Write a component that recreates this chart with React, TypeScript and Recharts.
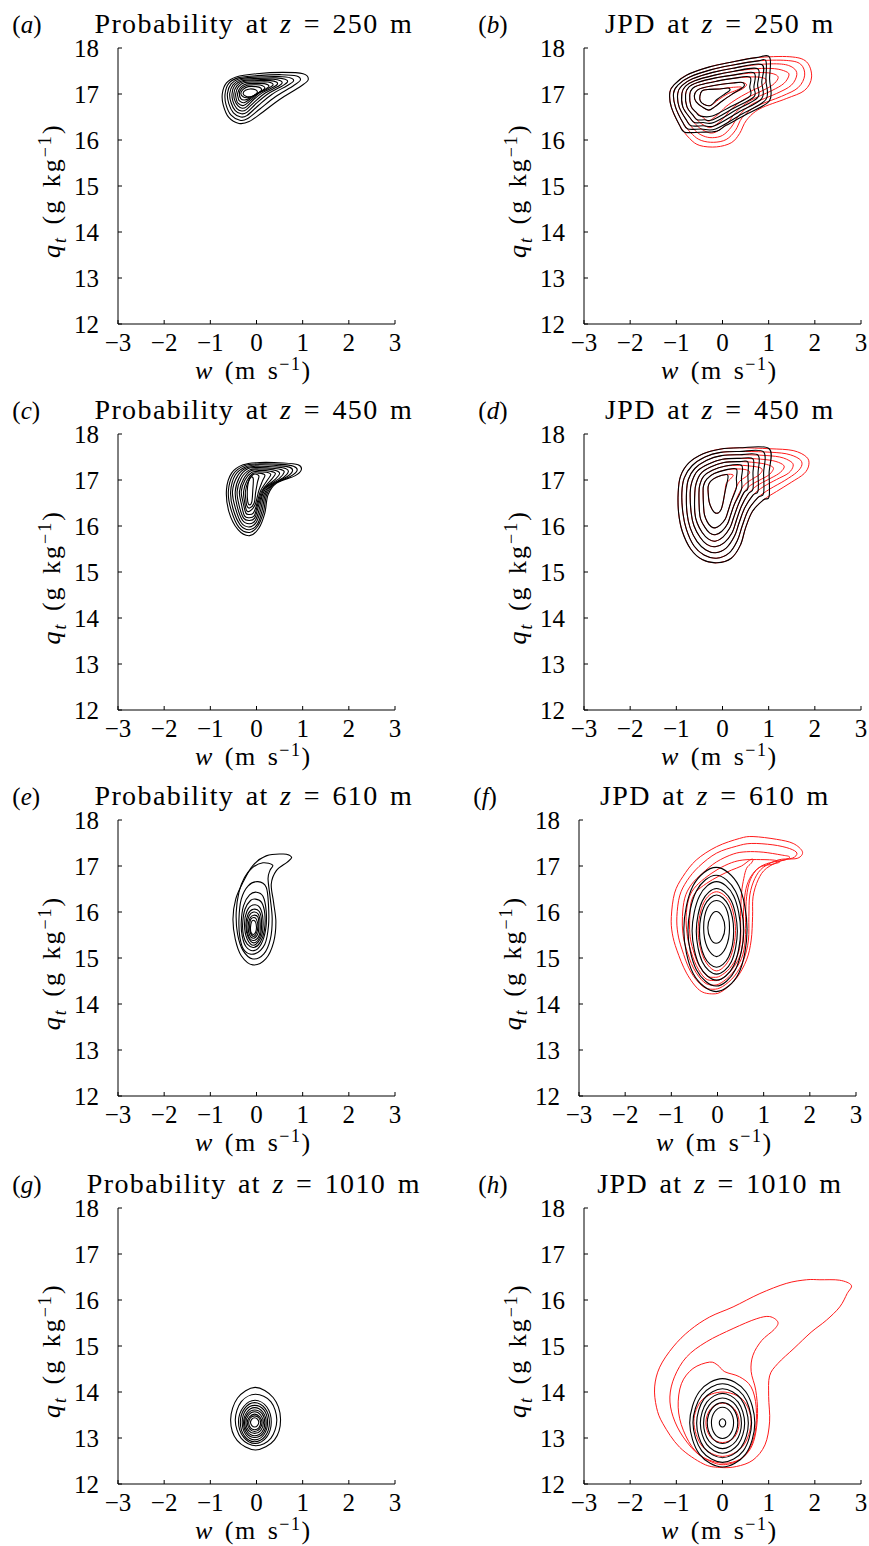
import React from "react";
import { ScatterChart, Scatter, XAxis, YAxis } from "recharts";

const W_TICKS = [-3, -2, -1, 0, 1, 2, 3];
const Q_TICKS = [12, 13, 14, 15, 16, 17, 18];

// contour rings, flat lists of w, q pairs, outermost ring first
const RINGS_A = [
  [-0.74, 17.01, -0.65, 17.24, -0.44, 17.37, 0.0, 17.44, 0.57, 17.47, 1.01, 17.44, 1.12, 17.31, 0.96, 17.17, 0.5, 16.88, 0.14, 16.61, -0.16, 16.4, -0.38, 16.36, -0.6, 16.49, -0.72, 16.76],
  [-0.68, 17.01, -0.6, 17.23, -0.4, 17.35, 0.02, 17.4, 0.55, 17.42, 0.87, 17.39, 0.95, 17.3, 0.8, 17.18, 0.41, 16.94, 0.08, 16.68, -0.2, 16.46, -0.36, 16.43, -0.55, 16.54, -0.66, 16.77],
  [-0.63, 17.01, -0.55, 17.22, -0.37, 17.33, 0.03, 17.37, 0.48, 17.38, 0.74, 17.35, 0.8, 17.28, 0.66, 17.18, 0.33, 16.99, 0.04, 16.75, -0.21, 16.53, -0.34, 16.5, -0.5, 16.59, -0.6, 16.79],
  [-0.58, 17.01, -0.51, 17.2, -0.34, 17.31, 0.03, 17.34, 0.42, 17.35, 0.62, 17.32, 0.67, 17.26, 0.55, 17.17, 0.26, 17.01, 0.0, 16.8, -0.21, 16.6, -0.33, 16.57, -0.46, 16.64, -0.55, 16.81],
  [-0.53, 17.01, -0.47, 17.19, -0.31, 17.29, 0.03, 17.31, 0.36, 17.32, 0.52, 17.29, 0.55, 17.23, 0.44, 17.15, 0.19, 17.02, -0.03, 16.84, -0.22, 16.66, -0.32, 16.63, -0.43, 16.69, -0.51, 16.84],
  [-0.49, 17.01, -0.43, 17.17, -0.28, 17.27, 0.02, 17.29, 0.3, 17.29, 0.43, 17.26, 0.45, 17.21, 0.35, 17.14, 0.13, 17.03, -0.06, 16.88, -0.22, 16.72, -0.31, 16.69, -0.4, 16.74, -0.47, 16.86],
  [-0.45, 17.01, -0.39, 17.16, -0.25, 17.25, 0.02, 17.26, 0.25, 17.26, 0.36, 17.2, 0.25, 17.12, 0.06, 17.02, -0.13, 16.86, -0.28, 16.75, -0.4, 16.8, -0.44, 16.9],
  [-0.41, 17.01, -0.35, 17.14, -0.22, 17.22, 0.02, 17.23, 0.19, 17.22, 0.27, 17.17, 0.18, 17.1, 0.02, 17.01, -0.14, 16.89, -0.27, 16.81, -0.37, 16.85, -0.4, 16.93],
  [-0.37, 17.01, -0.32, 17.12, -0.2, 17.19, 0.01, 17.2, 0.13, 17.18, 0.18, 17.13, 0.1, 17.06, -0.02, 16.99, -0.15, 16.91, -0.26, 16.87, -0.34, 16.9],
  [-0.34, 17.01, -0.29, 17.1, -0.18, 17.16, -0.01, 17.16, 0.09, 17.13, 0.1, 17.07, 0.02, 17.01, -0.09, 16.95, -0.2, 16.92, -0.29, 16.94],
  [-0.29, 17.01, -0.24, 17.08, -0.14, 17.11, -0.02, 17.09, 0.02, 17.04, -0.03, 16.98, -0.13, 16.94, -0.23, 16.95],
];

const RINGS_C = [
  [-0.65, 16.79, -0.54, 17.15, -0.29, 17.33, 0.07, 17.38, 0.58, 17.37, 0.9, 17.33, 0.97, 17.22, 0.83, 17.09, 0.43, 16.93, 0.25, 16.68, 0.18, 16.28, 0.05, 15.95, -0.15, 15.79, -0.4, 15.92, -0.6, 16.32],
  [-0.61, 16.75, -0.5, 17.13, -0.26, 17.31, 0.07, 17.35, 0.53, 17.34, 0.8, 17.3, 0.88, 17.21, 0.74, 17.08, 0.38, 16.91, 0.22, 16.68, 0.15, 16.3, 0.03, 16.0, -0.15, 15.86, -0.38, 15.97, -0.55, 16.35],
  [-0.56, 16.75, -0.46, 17.11, -0.23, 17.29, 0.07, 17.33, 0.49, 17.31, 0.71, 17.28, 0.78, 17.2, 0.66, 17.07, 0.33, 16.89, 0.19, 16.68, 0.12, 16.33, 0.02, 16.04, -0.15, 15.92, -0.35, 16.02, -0.51, 16.38],
  [-0.52, 16.75, -0.41, 17.09, -0.2, 17.27, 0.07, 17.3, 0.45, 17.28, 0.63, 17.25, 0.69, 17.18, 0.58, 17.05, 0.28, 16.87, 0.16, 16.68, 0.09, 16.35, 0.0, 16.09, -0.15, 15.98, -0.33, 16.07, -0.46, 16.4],
  [-0.46, 16.75, -0.37, 17.06, -0.18, 17.25, 0.07, 17.27, 0.4, 17.25, 0.55, 17.22, 0.6, 17.17, 0.5, 17.04, 0.23, 16.85, 0.13, 16.68, 0.06, 16.37, -0.02, 16.13, -0.15, 16.05, -0.3, 16.12, -0.42, 16.43],
  [-0.42, 16.75, -0.33, 17.04, -0.15, 17.22, 0.07, 17.24, 0.36, 17.22, 0.5, 17.15, 0.41, 17.02, 0.18, 16.83, 0.11, 16.68, 0.03, 16.39, -0.04, 16.17, -0.15, 16.12, -0.28, 16.17, -0.38, 16.46],
  [-0.37, 16.75, -0.28, 17.02, -0.12, 17.2, 0.07, 17.21, 0.3, 17.19, 0.41, 17.14, 0.32, 17.01, 0.14, 16.8, 0.08, 16.66, 0.01, 16.41, -0.05, 16.22, -0.15, 16.18, -0.26, 16.22, -0.33, 16.49],
  [-0.33, 16.75, -0.25, 17.0, -0.1, 17.17, 0.05, 17.18, 0.21, 17.17, 0.31, 17.12, 0.23, 16.99, 0.1, 16.79, 0.05, 16.64, -0.01, 16.42, -0.07, 16.28, -0.15, 16.25, -0.23, 16.28, -0.29, 16.51],
  [-0.28, 16.75, -0.21, 16.98, -0.08, 17.14, 0.04, 17.15, 0.18, 17.11, 0.13, 16.98, 0.05, 16.77, -0.03, 16.46, -0.15, 16.32, -0.22, 16.35, -0.26, 16.54],
  [-0.24, 16.75, -0.18, 16.96, -0.07, 17.12, 0.05, 17.09, 0.02, 16.95, -0.02, 16.72, -0.05, 16.5, -0.15, 16.39, -0.21, 16.44, -0.23, 16.57],
  [-0.2, 16.75, -0.18, 16.93, -0.13, 17.06, -0.07, 17.03, -0.08, 16.79, -0.1, 16.53, -0.15, 16.46, -0.19, 16.53],
];

const RINGS_E = [
  [0.76, 17.19, 0.58, 17.26, 0.21, 17.22, -0.08, 17.01, -0.29, 16.65, -0.45, 16.28, -0.51, 15.85, -0.46, 15.41, -0.33, 15.05, -0.08, 14.85, 0.2, 14.98, 0.37, 15.34, 0.42, 15.78, 0.37, 16.21, 0.32, 16.61, 0.43, 16.9, 0.66, 17.08],
  [0.35, 17.02, 0.14, 17.07, -0.08, 16.97, -0.26, 16.75, -0.38, 16.43, -0.44, 15.99, -0.41, 15.52, -0.29, 15.16, -0.08, 14.98, 0.16, 15.09, 0.3, 15.41, 0.34, 15.85, 0.3, 16.28, 0.25, 16.72, 0.29, 16.9],
  [-0.38, 15.85, -0.33, 16.28, -0.18, 16.57, 0.03, 16.66, 0.21, 16.54, 0.26, 16.14, 0.26, 15.7, 0.18, 15.3, -0.04, 15.09, -0.26, 15.16, -0.36, 15.45],
  [-0.33, 15.78, -0.28, 16.14, -0.15, 16.37, 0.0, 16.43, 0.14, 16.34, 0.21, 16.02, 0.2, 15.63, 0.1, 15.3, -0.06, 15.16, -0.23, 15.25, -0.31, 15.48],
  [-0.3, 15.74, -0.25, 16.06, -0.13, 16.25, -0.02, 16.28, 0.11, 16.21, 0.18, 15.96, 0.17, 15.6, 0.08, 15.34, -0.06, 15.23, -0.2, 15.3, -0.28, 15.48],
  [-0.26, 15.72, -0.21, 16.01, -0.08, 16.15, 0.07, 16.1, 0.14, 15.83, 0.11, 15.48, -0.05, 15.28, -0.2, 15.41],
  [-0.23, 15.71, -0.18, 15.96, -0.07, 16.06, 0.06, 16.01, 0.11, 15.79, 0.08, 15.48, -0.05, 15.33, -0.18, 15.45],
  [-0.21, 15.7, -0.16, 15.92, -0.06, 16.0, 0.04, 15.95, 0.08, 15.76, 0.06, 15.5, -0.06, 15.38, -0.17, 15.47],
  [-0.18, 15.69, -0.14, 15.87, -0.06, 15.93, 0.03, 15.89, 0.05, 15.72, 0.03, 15.53, -0.06, 15.43, -0.15, 15.5],
  [-0.15, 15.68, -0.13, 15.83, -0.06, 15.88, 0.0, 15.84, 0.03, 15.69, 0.0, 15.54, -0.06, 15.47, -0.13, 15.54],
  [-0.13, 15.67, -0.11, 15.78, -0.07, 15.82, -0.02, 15.78, 0.0, 15.67, -0.02, 15.56, -0.07, 15.51, -0.12, 15.56],
];

const RINGS_G = [
  [-0.56, 13.4, -0.41, 13.87, -0.03, 14.1, 0.36, 13.88, 0.52, 13.42, 0.39, 12.96, -0.02, 12.74, -0.42, 12.95],
  [-0.46, 13.39, -0.33, 13.79, -0.02, 13.95, 0.31, 13.79, 0.44, 13.39, 0.31, 12.99, -0.01, 12.83, -0.33, 12.99],
  [-0.39, 13.35, -0.28, 13.68, -0.03, 13.82, 0.22, 13.68, 0.32, 13.35, 0.22, 13.02, -0.03, 12.88, -0.28, 13.02],
  [-0.35, 13.34, -0.26, 13.64, -0.04, 13.77, 0.19, 13.64, 0.28, 13.34, 0.19, 13.04, -0.04, 12.92, -0.26, 13.04],
  [-0.31, 13.34, -0.23, 13.61, -0.04, 13.71, 0.16, 13.61, 0.24, 13.34, 0.16, 13.07, -0.04, 12.96, -0.23, 13.07],
  [-0.28, 13.33, -0.21, 13.56, -0.04, 13.66, 0.14, 13.56, 0.21, 13.33, 0.14, 13.1, -0.04, 13.01, -0.21, 13.1],
  [-0.26, 13.33, -0.19, 13.53, -0.04, 13.61, 0.12, 13.53, 0.18, 13.33, 0.12, 13.13, -0.04, 13.05, -0.19, 13.13],
  [-0.23, 13.33, -0.17, 13.5, -0.04, 13.57, 0.09, 13.5, 0.15, 13.33, 0.09, 13.16, -0.04, 13.1, -0.17, 13.16],
  [-0.2, 13.33, -0.15, 13.46, -0.04, 13.52, 0.07, 13.46, 0.12, 13.33, 0.07, 13.2, -0.04, 13.14, -0.15, 13.2],
  [-0.17, 13.33, -0.13, 13.44, -0.04, 13.48, 0.05, 13.44, 0.09, 13.33, 0.05, 13.22, -0.04, 13.18, -0.13, 13.22],
  [-0.13, 13.34, -0.1, 13.41, -0.04, 13.44, 0.02, 13.41, 0.05, 13.34, 0.02, 13.27, -0.04, 13.24, -0.1, 13.27],
];

const RED_B = [
  [-1.14, 17.04, -1.04, 17.21, -0.78, 17.41, -0.28, 17.59, 0.23, 17.7, 0.73, 17.79, 1.46, 17.81, 1.82, 17.7, 1.93, 17.37, 1.78, 17.08, 1.38, 16.9, 0.81, 16.68, 0.52, 16.43, 0.37, 16.14, 0.19, 15.94, -0.13, 15.85, -0.49, 15.88, -0.71, 16.03, -0.93, 16.32, -1.11, 16.72],
  [-1.06, 17.02, -0.96, 17.2, -0.71, 17.37, -0.24, 17.53, 0.23, 17.63, 0.77, 17.72, 1.38, 17.73, 1.69, 17.65, 1.78, 17.41, 1.64, 17.14, 1.28, 16.95, 0.73, 16.73, 0.43, 16.49, 0.28, 16.21, 0.08, 16.01, -0.19, 15.95, -0.46, 15.99, -0.65, 16.12, -0.86, 16.38, -1.02, 16.72],
  [-0.97, 17.01, -0.88, 17.18, -0.65, 17.33, -0.21, 17.47, 0.23, 17.56, 0.77, 17.64, 1.28, 17.65, 1.53, 17.57, 1.61, 17.42, 1.49, 17.19, 1.17, 17.01, 0.66, 16.79, 0.36, 16.54, 0.19, 16.28, 0.0, 16.1, -0.22, 16.05, -0.42, 16.09, -0.6, 16.21, -0.78, 16.43, -0.94, 16.72],
  [-0.88, 17.01, -0.8, 17.17, -0.6, 17.29, -0.17, 17.41, 0.23, 17.49, 0.73, 17.55, 1.13, 17.55, 1.37, 17.49, 1.44, 17.41, 1.33, 17.23, 1.06, 17.07, 0.59, 16.85, 0.29, 16.6, 0.11, 16.37, -0.08, 16.21, -0.24, 16.15, -0.39, 16.2, -0.54, 16.3, -0.71, 16.49, -0.86, 16.72],
  [-0.8, 16.99, -0.73, 17.15, -0.54, 17.25, -0.15, 17.35, 0.23, 17.41, 0.66, 17.46, 0.99, 17.46, 1.17, 17.41, 1.2, 17.33, 1.09, 17.2, 0.88, 17.08, 0.48, 16.89, 0.19, 16.67, 0.01, 16.46, -0.16, 16.32, -0.28, 16.27, -0.36, 16.3, -0.49, 16.38, -0.64, 16.54, -0.77, 16.72],
  [-0.71, 16.98, -0.65, 17.12, -0.48, 17.2, -0.12, 17.28, 0.23, 17.34, 0.59, 17.37, 0.84, 17.36, 0.95, 17.3, 0.84, 17.17, 0.63, 17.07, 0.34, 16.91, 0.08, 16.73, -0.08, 16.57, -0.22, 16.46, -0.31, 16.41, -0.42, 16.49, -0.57, 16.6, -0.68, 16.73],
  [-0.61, 16.96, -0.55, 17.08, -0.4, 17.14, -0.09, 17.2, 0.23, 17.24, 0.43, 17.25, 0.52, 17.2, 0.43, 17.11, 0.23, 17.01, 0.01, 16.86, -0.17, 16.72, -0.3, 16.65, -0.44, 16.72, -0.57, 16.83],
  [-0.49, 16.95, -0.44, 17.07, -0.28, 17.1, -0.06, 17.11, 0.17, 17.14, 0.41, 17.15, 0.3, 17.08, 0.12, 17.01, -0.08, 16.88, -0.26, 16.75, -0.41, 16.78, -0.48, 16.85],
];

const BLACK_B = [
  [-1.14, 17.04, -1.04, 17.21, -0.78, 17.41, -0.28, 17.59, 0.23, 17.7, 0.73, 17.79, 1.02, 17.8, 1.02, 17.33, 1.02, 16.86, 0.52, 16.56, 0.08, 16.32, -0.13, 16.19, -0.49, 16.17, -0.82, 16.17, -0.93, 16.32, -1.11, 16.72],
  [-1.06, 17.02, -0.96, 17.2, -0.71, 17.37, -0.24, 17.53, 0.23, 17.63, 0.77, 17.72, 0.94, 17.72, 0.94, 17.3, 0.94, 16.88, 0.41, 16.56, -0.15, 16.24, -0.46, 16.24, -0.75, 16.24, -0.86, 16.38, -1.02, 16.72],
  [-0.97, 17.01, -0.88, 17.18, -0.65, 17.33, -0.21, 17.47, 0.23, 17.56, 0.85, 17.64, 0.85, 17.26, 0.85, 16.9, 0.34, 16.6, -0.17, 16.31, -0.42, 16.31, -0.68, 16.31, -0.78, 16.43, -0.94, 16.72],
  [-0.88, 17.01, -0.8, 17.17, -0.6, 17.29, -0.17, 17.41, 0.23, 17.49, 0.76, 17.55, 0.76, 17.2, 0.76, 16.92, 0.29, 16.65, -0.19, 16.38, -0.42, 16.38, -0.61, 16.38, -0.71, 16.49, -0.86, 16.72],
  [-0.8, 16.99, -0.73, 17.15, -0.54, 17.25, -0.15, 17.35, 0.23, 17.41, 0.68, 17.46, 0.68, 17.15, 0.68, 16.94, 0.24, 16.69, -0.21, 16.44, -0.39, 16.44, -0.55, 16.44, -0.64, 16.54, -0.77, 16.72],
  [-0.71, 16.98, -0.65, 17.12, -0.48, 17.2, -0.12, 17.28, 0.23, 17.34, 0.59, 17.37, 0.59, 17.15, 0.59, 16.95, 0.18, 16.73, -0.22, 16.52, -0.48, 16.52, -0.57, 16.6, -0.68, 16.73],
  [-0.61, 16.96, -0.55, 17.08, -0.4, 17.14, -0.09, 17.2, 0.23, 17.24, 0.43, 17.25, 0.46, 17.16, 0.23, 17.01, 0.01, 16.86, -0.17, 16.72, -0.3, 16.65, -0.44, 16.72, -0.57, 16.83],
  [-0.49, 16.95, -0.44, 17.07, -0.28, 17.1, -0.06, 17.11, 0.12, 17.13, 0.16, 17.08, 0.05, 17.0, -0.12, 16.88, -0.26, 16.75, -0.41, 16.78, -0.48, 16.85],
];

const RED_D = [
  [-0.96, 16.72, -0.91, 17.08, -0.73, 17.37, -0.42, 17.57, -0.06, 17.67, 0.37, 17.7, 1.02, 17.68, 1.53, 17.64, 1.82, 17.5, 1.87, 17.33, 1.77, 17.14, 1.49, 16.95, 1.17, 16.75, 0.89, 16.57, 0.65, 16.32, 0.5, 15.96, 0.39, 15.59, 0.19, 15.3, -0.12, 15.2, -0.44, 15.27, -0.69, 15.5, -0.87, 15.88, -0.95, 16.28],
  [-0.88, 16.72, -0.83, 17.04, -0.66, 17.31, -0.38, 17.5, -0.04, 17.6, 0.37, 17.62, 0.91, 17.61, 1.38, 17.57, 1.66, 17.46, 1.72, 17.33, 1.61, 17.17, 1.35, 16.99, 1.02, 16.8, 0.77, 16.62, 0.56, 16.35, 0.43, 16.01, 0.32, 15.68, 0.14, 15.41, -0.13, 15.3, -0.4, 15.37, -0.62, 15.57, -0.78, 15.92, -0.86, 16.3],
  [-0.78, 16.72, -0.74, 17.01, -0.6, 17.25, -0.34, 17.43, -0.02, 17.53, 0.37, 17.55, 0.81, 17.54, 1.24, 17.5, 1.48, 17.4, 1.53, 17.3, 1.43, 17.15, 1.17, 17.01, 0.88, 16.85, 0.66, 16.67, 0.48, 16.39, 0.36, 16.07, 0.26, 15.78, 0.08, 15.52, -0.15, 15.42, -0.36, 15.48, -0.55, 15.66, -0.7, 15.96, -0.77, 16.3],
  [-0.7, 16.72, -0.66, 16.97, -0.54, 17.2, -0.3, 17.35, 0.0, 17.45, 0.37, 17.47, 0.73, 17.46, 1.09, 17.42, 1.3, 17.34, 1.33, 17.26, 1.22, 17.14, 0.99, 17.01, 0.75, 16.88, 0.56, 16.7, 0.41, 16.43, 0.3, 16.12, 0.21, 15.86, 0.04, 15.64, -0.16, 15.55, -0.34, 15.6, -0.49, 15.76, -0.62, 16.01, -0.68, 16.3],
  [-0.6, 16.72, -0.57, 16.93, -0.47, 17.14, -0.26, 17.28, 0.03, 17.38, 0.37, 17.4, 0.7, 17.38, 0.95, 17.34, 1.09, 17.28, 1.09, 17.21, 0.99, 17.1, 0.79, 16.99, 0.6, 16.88, 0.46, 16.72, 0.34, 16.46, 0.24, 16.18, 0.16, 15.96, 0.01, 15.76, -0.16, 15.67, -0.31, 15.72, -0.44, 15.86, -0.55, 16.07, -0.6, 16.3],
  [-0.51, 16.72, -0.49, 16.9, -0.41, 17.08, -0.22, 17.21, 0.05, 17.3, 0.37, 17.32, 0.63, 17.3, 0.81, 17.27, 0.86, 17.21, 0.79, 17.11, 0.63, 17.01, 0.48, 16.9, 0.37, 16.73, 0.26, 16.48, 0.18, 16.25, 0.11, 16.05, -0.02, 15.88, -0.16, 15.81, -0.28, 15.85, -0.38, 15.97, -0.47, 16.14, -0.5, 16.32],
  [-0.42, 16.72, -0.41, 16.88, -0.34, 17.02, -0.18, 17.14, 0.07, 17.22, 0.34, 17.24, 0.52, 17.22, 0.59, 17.17, 0.52, 17.08, 0.37, 16.97, 0.28, 16.79, 0.19, 16.54, 0.12, 16.32, 0.06, 16.15, -0.05, 16.02, -0.16, 15.96, -0.25, 15.99, -0.33, 16.09, -0.39, 16.24, -0.41, 16.43],
  [-0.31, 16.72, -0.31, 16.86, -0.26, 16.97, -0.13, 17.06, 0.08, 17.12, 0.23, 17.11, 0.17, 17.02, 0.08, 16.92, 0.05, 16.72, 0.01, 16.5, -0.03, 16.36, -0.1, 16.28, -0.18, 16.3, -0.24, 16.39, -0.29, 16.53],
];

const BLACK_D = [
  [-0.96, 16.72, -0.91, 17.08, -0.73, 17.37, -0.42, 17.57, -0.06, 17.67, 0.37, 17.7, 1.01, 17.68, 1.01, 17.15, 1.01, 16.64, 0.89, 16.57, 0.65, 16.32, 0.5, 15.96, 0.39, 15.59, 0.19, 15.3, -0.12, 15.2, -0.44, 15.27, -0.69, 15.5, -0.87, 15.88, -0.95, 16.28],
  [-0.88, 16.72, -0.83, 17.04, -0.66, 17.31, -0.38, 17.5, -0.04, 17.6, 0.37, 17.62, 0.89, 17.61, 0.89, 17.15, 0.89, 16.71, 0.77, 16.62, 0.56, 16.35, 0.43, 16.01, 0.32, 15.68, 0.14, 15.41, -0.13, 15.3, -0.4, 15.37, -0.62, 15.57, -0.78, 15.92, -0.86, 16.3],
  [-0.78, 16.72, -0.74, 17.01, -0.6, 17.25, -0.34, 17.43, -0.02, 17.53, 0.37, 17.55, 0.77, 17.54, 0.77, 17.15, 0.77, 16.76, 0.66, 16.67, 0.48, 16.39, 0.36, 16.07, 0.26, 15.78, 0.08, 15.52, -0.15, 15.42, -0.36, 15.48, -0.55, 15.66, -0.7, 15.96, -0.77, 16.3],
  [-0.7, 16.72, -0.66, 16.97, -0.54, 17.2, -0.3, 17.35, 0.0, 17.45, 0.37, 17.47, 0.66, 17.46, 0.66, 17.15, 0.66, 16.8, 0.56, 16.7, 0.41, 16.43, 0.3, 16.12, 0.21, 15.86, 0.04, 15.64, -0.16, 15.55, -0.34, 15.6, -0.49, 15.76, -0.62, 16.01, -0.68, 16.3],
  [-0.6, 16.72, -0.57, 16.93, -0.47, 17.14, -0.26, 17.28, 0.03, 17.38, 0.37, 17.4, 0.55, 17.39, 0.55, 17.11, 0.55, 16.82, 0.46, 16.72, 0.34, 16.46, 0.24, 16.18, 0.16, 15.96, 0.01, 15.76, -0.16, 15.67, -0.31, 15.72, -0.44, 15.86, -0.55, 16.07, -0.6, 16.3],
  [-0.51, 16.72, -0.49, 16.9, -0.41, 17.08, -0.22, 17.21, 0.05, 17.3, 0.41, 17.32, 0.41, 17.04, 0.41, 16.79, 0.26, 16.48, 0.18, 16.25, 0.11, 16.05, -0.02, 15.88, -0.16, 15.81, -0.28, 15.85, -0.38, 15.97, -0.47, 16.14, -0.5, 16.32],
  [-0.42, 16.72, -0.41, 16.88, -0.34, 17.02, -0.18, 17.14, 0.07, 17.22, 0.3, 17.24, 0.3, 17.03, 0.3, 16.83, 0.19, 16.54, 0.12, 16.32, 0.06, 16.15, -0.05, 16.02, -0.16, 15.96, -0.25, 15.99, -0.33, 16.09, -0.39, 16.24, -0.41, 16.43],
  [-0.31, 16.72, -0.31, 16.86, -0.26, 16.97, -0.13, 17.06, 0.08, 17.12, 0.12, 17.08, 0.1, 16.95, 0.05, 16.72, 0.01, 16.5, -0.03, 16.36, -0.1, 16.28, -0.18, 16.3, -0.24, 16.39, -0.29, 16.53],
];

const RED_F = [
  [-1.0, 15.9, -0.93, 16.41, -0.75, 16.77, -0.46, 17.13, -0.02, 17.42, 0.48, 17.6, 0.77, 17.64, 1.28, 17.58, 1.64, 17.49, 1.84, 17.31, 1.74, 17.17, 1.42, 17.13, 1.06, 16.95, 0.88, 16.7, 0.77, 16.33, 0.76, 15.9, 0.73, 15.39, 0.63, 14.96, 0.41, 14.56, 0.12, 14.29, -0.1, 14.22, -0.39, 14.3, -0.67, 14.67, -0.88, 15.17, -0.98, 15.54],
  [-0.88, 15.9, -0.82, 16.35, -0.66, 16.68, -0.4, 16.99, -0.02, 17.28, 0.41, 17.43, 0.73, 17.49, 1.2, 17.46, 1.56, 17.38, 1.72, 17.28, 1.62, 17.17, 1.31, 17.13, 0.99, 16.97, 0.81, 16.73, 0.7, 16.37, 0.68, 15.9, 0.67, 15.39, 0.57, 14.97, 0.37, 14.61, 0.11, 14.38, -0.1, 14.32, -0.33, 14.39, -0.59, 14.72, -0.77, 15.19, -0.86, 15.54],
  [-0.76, 15.9, -0.71, 16.3, -0.57, 16.59, -0.33, 16.84, -0.02, 17.09, 0.34, 17.26, 0.63, 17.31, 0.99, 17.3, 1.38, 17.24, 1.56, 17.2, 1.46, 17.13, 1.13, 17.07, 0.88, 16.95, 0.71, 16.7, 0.63, 16.33, 0.61, 15.9, 0.6, 15.39, 0.52, 14.99, 0.32, 14.67, 0.08, 14.46, -0.1, 14.41, -0.3, 14.48, -0.52, 14.78, -0.68, 15.21, -0.75, 15.54],
  [-0.68, 15.9, -0.63, 16.26, -0.51, 16.51, -0.28, 16.73, 0.01, 16.93, 0.3, 17.07, 0.55, 17.13, 0.84, 17.14, 1.2, 17.13, 1.35, 17.09, 1.2, 17.04, 0.95, 16.99, 0.77, 16.84, 0.64, 16.59, 0.58, 16.26, 0.56, 15.9, 0.55, 15.39, 0.48, 15.03, 0.29, 14.72, 0.08, 14.54, -0.08, 14.51, -0.27, 14.56, -0.46, 14.84, -0.6, 15.23, -0.66, 15.54],
  [-0.6, 15.9, -0.57, 16.22, -0.46, 16.44, -0.24, 16.62, 0.03, 16.78, 0.3, 16.91, 0.52, 17.0, 0.7, 17.13, 0.77, 17.14, 0.73, 17.06, 0.63, 16.95, 0.57, 16.73, 0.52, 16.41, 0.5, 15.9, 0.5, 15.39, 0.43, 15.05, 0.26, 14.77, 0.06, 14.61, -0.08, 14.58, -0.24, 14.62, -0.42, 14.88, -0.55, 15.25, -0.6, 15.54],
  [-0.42, 15.6, -0.3, 16.2, -0.02, 16.44, 0.27, 16.2, 0.39, 15.6, 0.27, 15.0, -0.02, 14.72, -0.3, 15.0],
];

const BLACK_F = [
  [-0.73, 15.62, -0.53, 16.57, -0.03, 16.97, 0.46, 16.57, 0.64, 15.62, 0.46, 14.67, -0.03, 14.27, -0.53, 14.67],
  [-0.64, 15.6, -0.46, 16.45, -0.03, 16.8, 0.39, 16.45, 0.57, 15.6, 0.39, 14.75, -0.03, 14.39, -0.46, 14.75],
  [-0.55, 15.59, -0.39, 16.35, -0.02, 16.66, 0.35, 16.35, 0.5, 15.59, 0.35, 14.83, -0.02, 14.52, -0.39, 14.83],
  [-0.46, 15.58, -0.33, 16.24, -0.02, 16.51, 0.3, 16.24, 0.43, 15.58, 0.3, 14.92, -0.02, 14.65, -0.33, 14.92],
  [-0.39, 15.58, -0.28, 16.14, -0.02, 16.37, 0.24, 16.14, 0.35, 15.58, 0.24, 15.02, -0.02, 14.8, -0.28, 15.02],
  [-0.3, 15.66, -0.22, 16.09, -0.02, 16.25, 0.18, 16.09, 0.26, 15.66, 0.18, 15.23, -0.02, 15.03, -0.22, 15.23],
  [-0.21, 15.66, -0.15, 15.9, -0.03, 16.01, 0.1, 15.9, 0.16, 15.66, 0.1, 15.42, -0.03, 15.32, -0.15, 15.42],
];

const RED_H = [
  [2.79, 16.32, 2.54, 16.43, 2.11, 16.44, 1.82, 16.44, 1.38, 16.36, 0.81, 16.14, 0.23, 15.85, -0.28, 15.63, -0.71, 15.34, -1.07, 14.98, -1.36, 14.54, -1.47, 14.11, -1.43, 13.67, -1.29, 13.31, -0.93, 12.8, -0.42, 12.44, -0.06, 12.36, 0.3, 12.38, 0.66, 12.52, 0.92, 12.85, 1.02, 13.35, 1.0, 13.9, 1.02, 14.35, 1.2, 14.62, 1.55, 14.95, 1.92, 15.3, 2.25, 15.56, 2.54, 15.85, 2.7, 16.14],
  [1.2, 15.52, 1.02, 15.64, 0.73, 15.59, 0.23, 15.38, -0.35, 15.09, -0.78, 14.76, -1.04, 14.33, -1.14, 13.89, -1.07, 13.46, -0.85, 13.02, -0.49, 12.62, -0.06, 12.46, 0.3, 12.5, 0.56, 12.7, 0.7, 13.02, 0.76, 13.53, 0.72, 14.04, 0.62, 14.45, 0.66, 14.8, 0.85, 15.12, 1.12, 15.36],
  [-0.28, 14.65, -0.64, 14.51, -0.89, 14.18, -0.96, 13.67, -0.85, 13.17, -0.57, 12.7, -0.13, 12.44, 0.23, 12.46, 0.52, 12.66, 0.7, 13.09, 0.73, 13.67, 0.62, 14.11, 0.37, 14.33, 0.05, 14.44, -0.1, 14.58],
  [-0.62, 13.36, -0.44, 13.83, 0.0, 14.0, 0.44, 13.83, 0.62, 13.36, 0.44, 12.82, 0.0, 12.6, -0.44, 12.82],
  [-0.36, 13.33, -0.26, 13.63, 0.0, 13.76, 0.26, 13.63, 0.36, 13.33, 0.26, 13.02, 0.0, 12.9, -0.26, 13.02],
];

const BLACK_H = [
  [-0.71, 13.33, -0.5, 14.01, 0.0, 14.29, 0.5, 14.01, 0.7, 13.33, 0.5, 12.65, 0.0, 12.37, -0.5, 12.65],
  [-0.64, 13.33, -0.45, 13.93, 0.0, 14.18, 0.45, 13.93, 0.63, 13.33, 0.45, 12.72, 0.0, 12.47, -0.45, 12.72],
  [-0.56, 13.32, -0.4, 13.85, 0.0, 14.07, 0.4, 13.85, 0.56, 13.32, 0.4, 12.79, 0.0, 12.57, -0.4, 12.79],
  [-0.48, 13.32, -0.34, 13.78, 0.0, 13.97, 0.34, 13.78, 0.48, 13.32, 0.34, 12.86, 0.0, 12.67, -0.34, 12.86],
  [-0.41, 13.32, -0.29, 13.71, 0.0, 13.87, 0.29, 13.71, 0.41, 13.32, 0.29, 12.93, 0.0, 12.77, -0.29, 12.93],
  [-0.33, 13.33, -0.23, 13.64, 0.0, 13.77, 0.23, 13.64, 0.33, 13.33, 0.23, 13.01, 0.0, 12.88, -0.23, 13.01],
  [-0.24, 13.33, -0.17, 13.57, 0.0, 13.67, 0.17, 13.57, 0.24, 13.33, 0.17, 13.09, 0.0, 12.99, -0.17, 13.09],
  [-0.07, 13.33, -0.05, 13.39, 0.0, 13.42, 0.05, 13.39, 0.07, 13.33, 0.05, 13.27, 0.0, 13.24, -0.05, 13.27],
];

const PANELS = [
  { tag: "a", col: 0, row: 0, jpd: false, z: "250", red: [], black: RINGS_A },
  { tag: "b", col: 1, row: 0, jpd: true, z: "250", red: RED_B, black: BLACK_B },
  { tag: "c", col: 0, row: 1, jpd: false, z: "450", red: [], black: RINGS_C },
  { tag: "d", col: 1, row: 1, jpd: true, z: "450", red: RED_D, black: BLACK_D },
  { tag: "e", col: 0, row: 2, jpd: false, z: "610", red: [], black: RINGS_E },
  { tag: "f", col: 1, row: 2, jpd: true, z: "610", red: RED_F, black: BLACK_F, dx: -5 },
  { tag: "g", col: 0, row: 3, jpd: false, z: "1010", red: [], black: RINGS_G },
  { tag: "h", col: 1, row: 3, jpd: true, z: "1010", red: RED_H, black: BLACK_H },
];

// plot-area corners of the two columns / four rows
const COL_X = [118.3, 584.3];
const ROW_Y = [47.7, 434.3, 820, 1207.7];

const FONT = "'Liberation Serif', 'DejaVu Serif', serif";
const RED = "#ff1a1a";
const tickStyle = { fill: "#000", fontSize: 25, fontFamily: FONT };
const frame = { stroke: "#000", strokeWidth: 1 };
const fmt = (v: number) => (v < 0 ? "\u2212" + Math.abs(v) : String(v));
const noDot = () => <g />;

function toPoints(ring: number[]) {
  const out: { w: number; q: number }[] = [];
  for (let i = 0; i < ring.length; i += 2) out.push({ w: ring[i], q: ring[i + 1] });
  return out;
}

// closed catmull-rom through the scaled points
function closedPath(pts: { x: number; y: number }[]) {
  if (!pts || pts.length < 3) return "";
  const n = pts.length;
  const f = (v: number) => v.toFixed(2);
  let d = `M${f(pts[0].x)},${f(pts[0].y)}`;
  for (let i = 0; i < n; i++) {
    const p0 = pts[(i - 1 + n) % n];
    const p1 = pts[i];
    const p2 = pts[(i + 1) % n];
    const p3 = pts[(i + 2) % n];
    d += `C${f(p1.x + (p2.x - p0.x) / 6)},${f(p1.y + (p2.y - p0.y) / 6)} ${f(p2.x - (p3.x - p1.x) / 6)},${f(p2.y - (p3.y - p1.y) / 6)} ${f(p2.x)},${f(p2.y)}`;
  }
  return d + "Z";
}

const ringLine = (color: string, width: number) => (lp: any) =>
  <path d={closedPath(lp.points)} fill="none" stroke={color} strokeWidth={width} strokeLinejoin="round" />;

function ContourPanel({ p }: { p: any }) {
  const left = COL_X[p.col] + (p.dx || 0);
  const top = ROW_Y[p.row];
  return (
    <div style={{ position: "absolute", left: left - 100, top: top - 20, fontFamily: FONT }}>
      <ScatterChart width={387} height={356} margin={{ top: 20, right: 10, bottom: 0, left: 0 }}>
        <XAxis type="number" dataKey="w" domain={[-3, 3]} ticks={W_TICKS} interval={0} allowDataOverflow height={60}
          tickSize={-4} tickMargin={13} tick={tickStyle} tickFormatter={fmt} axisLine={frame} tickLine={frame} />
        <XAxis xAxisId="top" orientation="top" type="number" domain={[-3, 3]} ticks={W_TICKS} interval={0} allowDataOverflow
          height={0} tickSize={-4} tick={false} axisLine={frame} tickLine={frame} />
        <YAxis type="number" dataKey="q" domain={[12, 18]} ticks={Q_TICKS} interval={0} allowDataOverflow width={100}
          tickSize={-4} tickMargin={23} tick={tickStyle} axisLine={frame} tickLine={frame} />
        <YAxis yAxisId="right" orientation="right" type="number" domain={[12, 18]} ticks={Q_TICKS} interval={0} allowDataOverflow
          width={0} tickSize={-4} tick={false} axisLine={frame} tickLine={frame} />
        {p.red.map((r: number[], i: number) => (
          <Scatter key={"r" + i} data={toPoints(r)} line={ringLine(RED, 1)} shape={noDot} isAnimationActive={false} />
        ))}
        {p.black.map((r: number[], i: number) => (
          <Scatter key={"k" + i} data={toPoints(r)} line={ringLine("#000", 1.1)} shape={noDot} isAnimationActive={false} />
        ))}
      </ScatterChart>
    </div>
  );
}

function PanelText({ p }: { p: any }) {
  const x0 = COL_X[p.col] + (p.dx || 0);
  const y0 = ROW_Y[p.row];
  return (
    <g fill="#000">
      <text x={x0 - 106} y={y0 - 15} fontSize={25}>(<tspan fontStyle="italic">{p.tag}</tspan>)</text>
      <text x={x0 + 135.5} y={y0 - 15} fontSize={28} textAnchor="middle" letterSpacing={1.4} wordSpacing={3}>
        {p.jpd ? "JPD" : "Probability"} at <tspan fontStyle="italic">z</tspan> = {p.z} m
      </text>
      <text x={x0 + 135} y={y0 + 331} fontSize={26} textAnchor="middle" letterSpacing={1.5} wordSpacing={3}>
        <tspan fontStyle="italic">w</tspan> (m s<tspan dy={-9} fontSize={18}>{"\u22121"}</tspan><tspan dy={9}>)</tspan>
      </text>
      <text transform={`translate(${x0 - 58},${y0 + 143}) rotate(-90)`} fontSize={26} textAnchor="middle" letterSpacing={2} wordSpacing={3}>
        <tspan fontStyle="italic">q</tspan><tspan dy={6} fontSize={18} fontStyle="italic">t</tspan><tspan dy={-6}> (g kg</tspan><tspan dy={-9} fontSize={18}>{"\u22121"}</tspan><tspan dy={9}>)</tspan>
      </text>
    </g>
  );
}

export default function App() {
  return (
    <div style={{ position: "absolute", left: 0, top: 0, width: 869, height: 1546, background: "#fff", overflow: "hidden", fontFamily: FONT }}>
      {PANELS.map((p) => <ContourPanel key={p.tag} p={p} />)}
      <svg width={869} height={1546} fontFamily={FONT} style={{ position: "absolute", left: 0, top: 0, pointerEvents: "none" }}>
        {PANELS.map((p) => <PanelText key={p.tag} p={p} />)}
      </svg>
    </div>
  );
}
